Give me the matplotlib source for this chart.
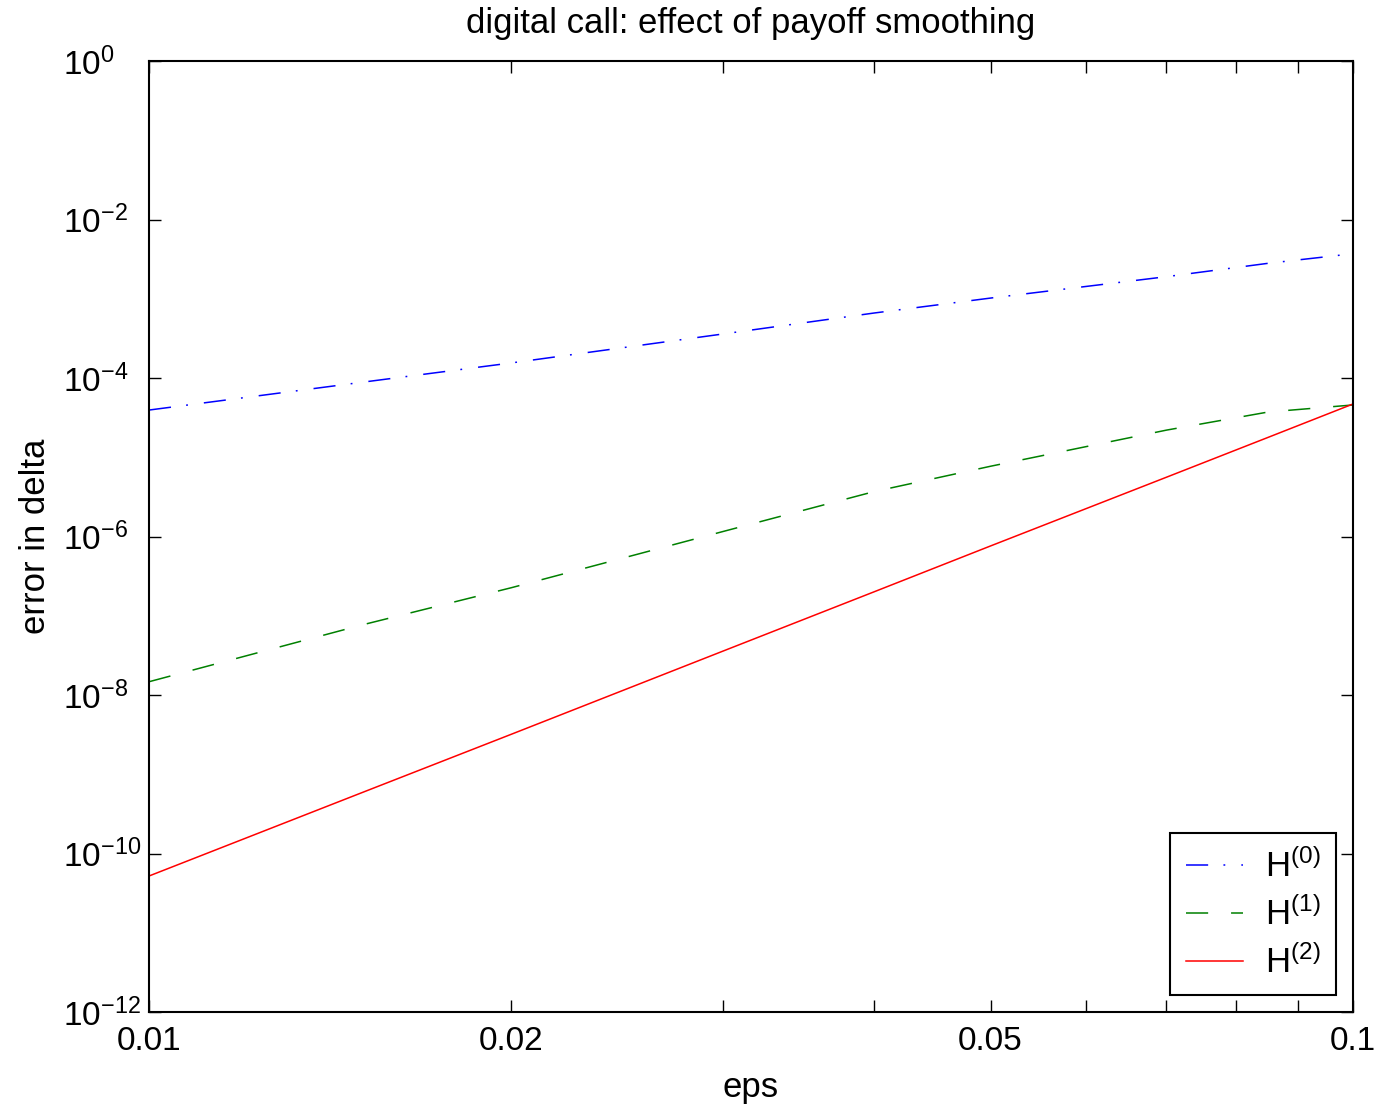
import numpy as np
import matplotlib
matplotlib.use('Agg')
import matplotlib.pyplot as plt
from matplotlib.ticker import FixedLocator, FixedFormatter, NullLocator

plt.rcParams['font.family'] = ['Liberation Sans', 'DejaVu Sans']
plt.rcParams['mathtext.fontset'] = 'custom'
plt.rcParams['mathtext.rm'] = 'Liberation Sans'
plt.rcParams['mathtext.it'] = 'Liberation Sans'

# values
eps = [0.01, 0.015, 0.02, 0.03, 0.04, 0.05, 0.07, 0.085, 0.1]
err_h0 = [3.94e-5, 8.8e-5, 1.55e-4, 3.6e-4, 6.6e-4, 1.02e-3, 1.9e-3, 2.8e-3, 3.7e-3]
err_h1 = [1.47e-8, 7.6e-8, 2.26e-7, 1.16e-6, 3.68e-6, 7.7e-6, 2.2e-5, 3.72e-5, 4.57e-5]
err_h2 = [5.2e-11, 5.8e-10, 3.2e-9, 3.6e-8, 2.0e-7, 7.6e-7, 5.6e-6, 1.78e-5, 4.7e-5]
labels = [r'H$^{(0)}$', r'H$^{(1)}$', r'H$^{(2)}$']

xticks = [0.01, 0.02, 0.05, 0.1]
xtick_labels = ['0.01', '0.02', '0.05', '0.1']
xminor = [0.03, 0.04, 0.06, 0.07, 0.08, 0.09]
yticks = [1e-12, 1e-10, 1e-8, 1e-6, 1e-4, 1e-2, 1e0]
ytick_labels = [r'10$^{-12}$', r'10$^{-10}$', r'10$^{-8}$', r'10$^{-6}$',
                r'10$^{-4}$', r'10$^{-2}$', r'10$^{0}$']

fig = plt.figure(figsize=(13.79, 11.05), dpi=100)
ax = fig.add_axes([149/1379, 93/1105, 1204/1379, 951/1105])

l0, = ax.plot(eps, err_h0, color='blue', lw=1.1, label=labels[0])
l0.set_dashes([14.5, 10, 1.2, 10.5])
l1, = ax.plot(eps, err_h1, color='green', lw=1.1, label=labels[1])
l1.set_dashes([14.5, 15])
ax.plot(eps, err_h2, color='red', lw=1.1, label=labels[2])

ax.set_xscale('log')
ax.set_yscale('log')
ax.set_xlim(0.01, 0.1)
ax.set_ylim(1e-12, 1)

ax.xaxis.set_major_locator(FixedLocator(xticks))
ax.xaxis.set_major_formatter(FixedFormatter(xtick_labels))
ax.xaxis.set_minor_locator(FixedLocator(xminor))
ax.xaxis.set_minor_formatter(FixedFormatter([''] * len(xminor)))
ax.set_yticks(yticks)
ax.set_yticklabels(ytick_labels, ha='left')
ax.yaxis.set_minor_locator(NullLocator())

ax.tick_params(which='both', direction='in', top=True, right=True,
               length=8.6, width=1.0, labelsize=24)
ax.tick_params(axis='x', pad=10)
ax.tick_params(axis='y', pad=62)
for s in ax.spines.values():
    s.set_linewidth(1.5)

ax.set_title('digital call: effect of payoff smoothing', fontsize=25, pad=20)
ax.set_xlabel('eps', fontsize=25, labelpad=10)
ax.set_ylabel('error in delta', fontsize=25, labelpad=8)

leg = ax.legend(loc='lower right', fontsize=25, fancybox=False, framealpha=1,
                edgecolor='black', handlelength=1.64, borderaxespad=0.48,
                labelspacing=0.36, borderpad=0.45, handletextpad=0.65)
leg.get_frame().set_linewidth(1.5)

fig.savefig('out.png', dpi=100)
